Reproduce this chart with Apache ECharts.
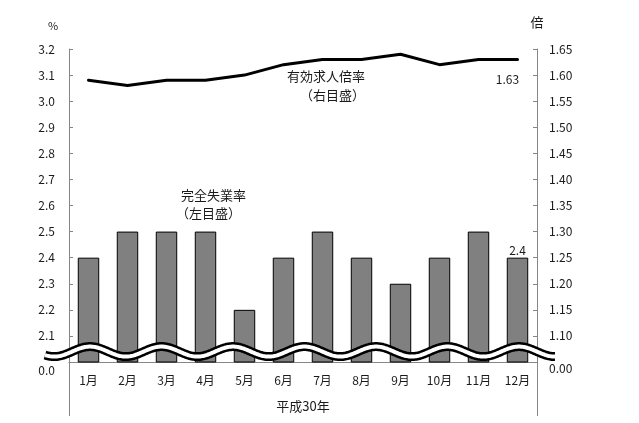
<!DOCTYPE html>
<html>
<head>
<meta charset="utf-8">
<script src="https://cdn.jsdelivr.net/npm/echarts@6/dist/echarts.min.js"></script>
<style>
html,body{margin:0;padding:0;background:#fff;}
#c{width:639px;height:423px;}
</style>
</head>
<body>
<div id="c"></div>
<script>
const months = ['1月','2月','3月','4月','5月','6月','7月','8月','9月','10月','11月','12月'];
const unemploymentRate = [2.4,2.5,2.5,2.5,2.2,2.4,2.5,2.4,2.3,2.4,2.5,2.4];
const jobOfferRatio = [1.59,1.58,1.59,1.59,1.60,1.62,1.63,1.63,1.64,1.62,1.63,1.63];
const leftAxis = {min: 2.0, max: 3.2, interval: 0.1, breakLabel: '0.0', digits: 1};
const rightAxis = {min: 1.05, max: 1.65, interval: 0.05, breakLabel: '0.00', digits: 2};

const FONT = '"Noto Sans CJK JP", "Noto Sans", sans-serif';
const TXT = '#1a1a1a';
const AX = '#868686';

const chart = echarts.init(document.getElementById('c'), null, {renderer: 'canvas'});

function fmt(ax) {
  return function (v) {
    if (Math.abs(v - ax.min) < ax.interval / 2) return '{z|' + ax.breakLabel + '}';
    return v.toFixed(ax.digits);
  };
}

const option = {
  animation: false,
  backgroundColor: '#fff',
  textStyle: {fontFamily: FONT, color: TXT},
  grid: {left: 69, right: 102, top: 49, bottom: 61, containLabel: false},
  xAxis: {
    type: 'category',
    data: months,
    name: '平成30年',
    nameLocation: 'middle',
    nameGap: 38,
    nameTextStyle: {fontSize: 13, color: TXT, fontFamily: FONT},
    axisLine: {show: true, lineStyle: {color: AX, width: 1}},
    axisTick: {show: false},
    axisLabel: {fontSize: 12, color: TXT, margin: 12, fontFamily: FONT}
  },
  yAxis: [
    {
      type: 'value',
      min: leftAxis.min, max: leftAxis.max, interval: leftAxis.interval,
      name: '%',
      nameLocation: 'end',
      nameGap: 18,
      nameTextStyle: {fontSize: 11, color: TXT, padding: [0, 32, 0, 0], fontFamily: FONT},
      axisLine: {show: true, lineStyle: {color: AX, width: 1}},
      axisTick: {show: true, inside: true, length: 4, lineStyle: {color: AX}},
      splitLine: {show: false},
      axisLabel: {
        fontSize: 12, color: TXT, margin: 14, fontFamily: FONT,
        formatter: fmt(leftAxis),
        rich: {z: {fontSize: 12, color: TXT, padding: [16, 0, 0, 0], fontFamily: FONT}}
      }
    },
    {
      type: 'value',
      min: rightAxis.min, max: rightAxis.max, interval: rightAxis.interval,
      name: '倍',
      nameLocation: 'end',
      nameGap: 20,
      nameTextStyle: {fontSize: 13, color: TXT, fontFamily: FONT},
      position: 'right',
      axisLine: {show: true, lineStyle: {color: AX, width: 1}},
      axisTick: {show: true, inside: true, length: 4, lineStyle: {color: AX}},
      splitLine: {show: false},
      axisLabel: {
        fontSize: 12, color: TXT, margin: 12, fontFamily: FONT,
        formatter: fmt(rightAxis),
        rich: {z: {fontSize: 12, color: TXT, padding: [12, 0, 0, 0], fontFamily: FONT}}
      }
    }
  ],
  series: [
    {
      name: '完全失業率',
      type: 'bar',
      yAxisIndex: 0,
      data: unemploymentRate.map((v, i) => i === unemploymentRate.length - 1
        ? {value: v, label: {show: true, position: 'top', distance: 1, fontSize: 12, color: TXT, fontFamily: FONT, formatter: p => Number(p.value).toFixed(1)}}
        : v),
      barWidth: '55%',
      itemStyle: {color: '#808080', borderColor: '#000', borderWidth: 1},
      z: 2
    },
    {
      name: '有効求人倍率',
      type: 'line',
      yAxisIndex: 1,
      data: jobOfferRatio.map((v, i) => i === jobOfferRatio.length - 1
        ? {value: v, label: {show: true, position: 'bottom', distance: 14, offset: [-10, 0], fontSize: 12, color: TXT, fontFamily: FONT, formatter: p => Number(p.value).toFixed(2)}}
        : v),
      symbol: 'circle',
      symbolSize: 0,
      showSymbol: true,
      itemStyle: {color: '#000'},
      lineStyle: {color: '#000', width: 3, join: 'round', cap: 'round'},
      z: 5
    }
  ]
};
chart.setOption(option);

function addDecorations() {
  const g = chart.getModel().getComponent('grid', 0).coordinateSystem.getRect();
  const yMid = chart.convertToPixel({yAxisIndex: 0}, 2.04);
  const x0 = g.x - 24, x1 = g.x + g.width + 18;
  const period = 71.5, amp = 5, peak0 = g.x + 21;
  const pts = [];
  for (let x = x0; x <= x1 + 0.01; x += 1) {
    pts.push([x, yMid - amp * Math.cos(2 * Math.PI * (x - peak0) / period)]);
  }
  const yBase = g.y + g.height;
  chart.setOption({
    graphic: [
      {type: 'polyline', shape: {points: pts}, style: {stroke: '#000', lineWidth: 9, fill: null, lineCap: 'butt', lineJoin: 'round'}, z: 100},
      {type: 'polyline', shape: {points: pts}, style: {stroke: '#fff', lineWidth: 4, fill: null, lineCap: 'butt', lineJoin: 'round'}, z: 101},
      {type: 'line', shape: {x1: g.x + 0.5, y1: yBase, x2: g.x + 0.5, y2: yBase + 54}, style: {stroke: AX, lineWidth: 1}, z: 50},
      {type: 'line', shape: {x1: g.x + g.width + 0.5, y1: yBase, x2: g.x + g.width + 0.5, y2: yBase + 54}, style: {stroke: AX, lineWidth: 1}, z: 50},
      {type: 'text', left: 287, top: 70, style: {text: '有効求人倍率', font: '13px ' + FONT, fill: TXT}, z: 60},
      {type: 'text', left: 300, top: 89, style: {text: '（右目盛）', font: '13px ' + FONT, fill: TXT}, z: 60},
      {type: 'text', left: 181, top: 189, style: {text: '完全失業率', font: '13px ' + FONT, fill: TXT}, z: 60},
      {type: 'text', left: 176, top: 207, style: {text: '（左目盛）', font: '13px ' + FONT, fill: TXT}, z: 60}
    ]
  });
}
addDecorations();
</script>
</body>
</html>
